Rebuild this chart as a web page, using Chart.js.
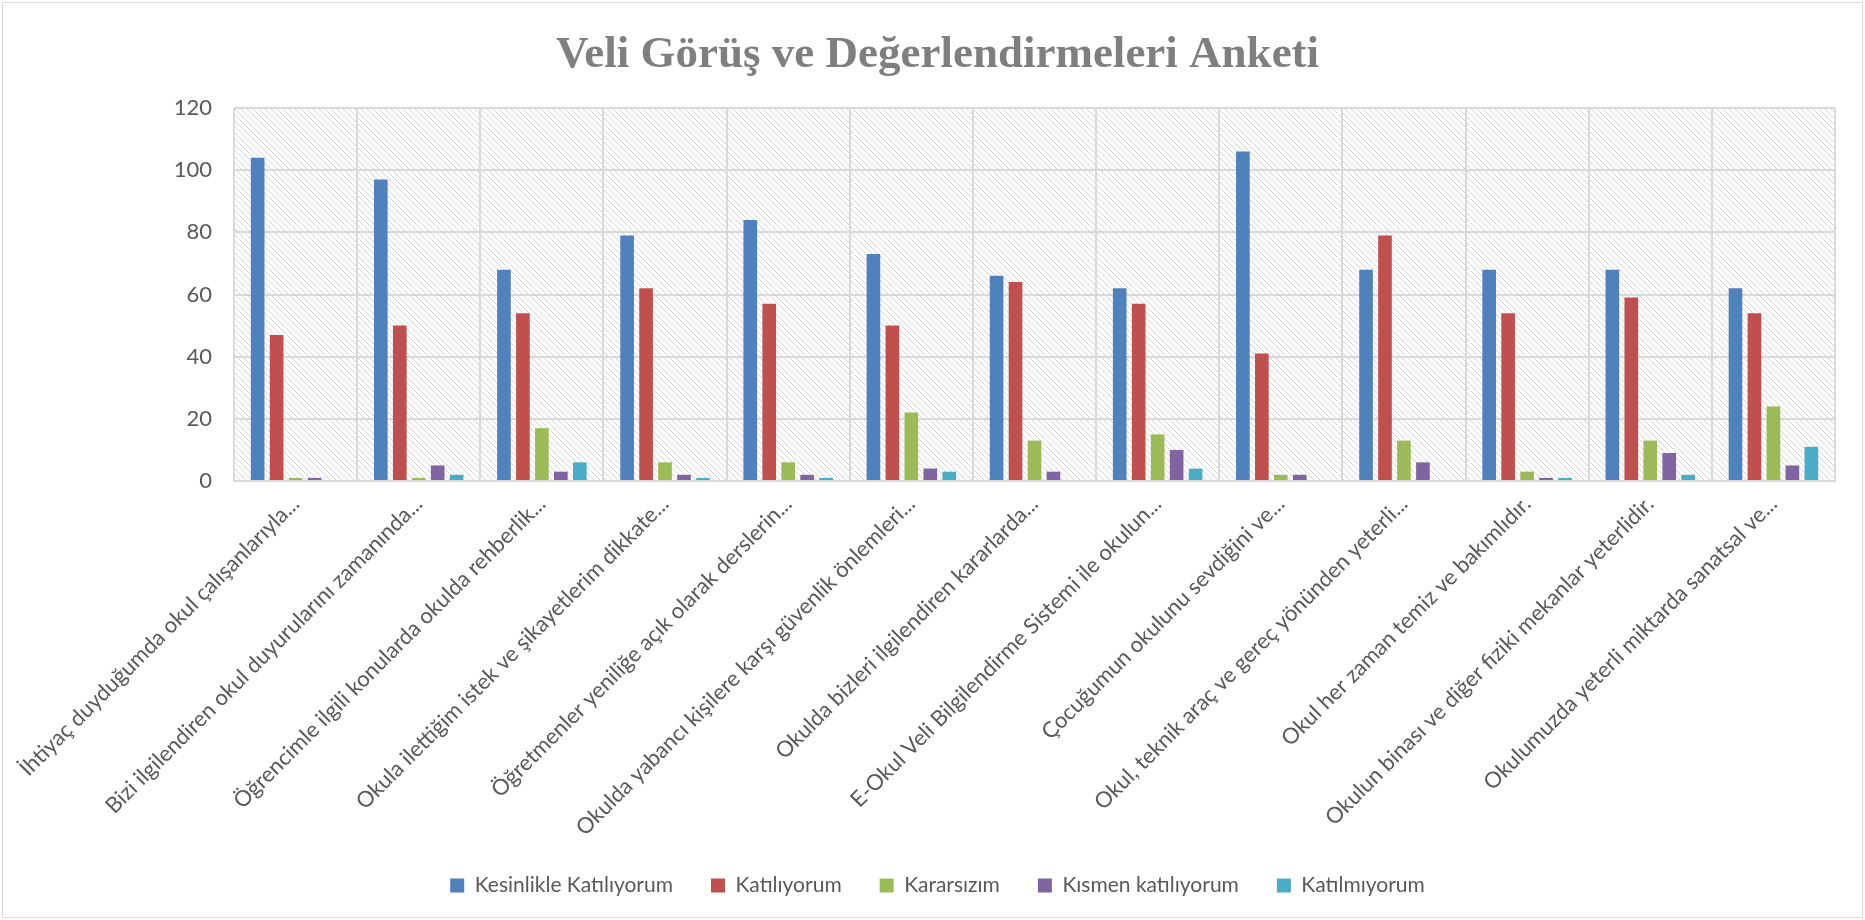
<!DOCTYPE html>
<html>
<head>
<meta charset="utf-8">
<script src="https://cdn.jsdelivr.net/npm/chart.js@4.4.1/dist/chart.umd.min.js"></script>
<style>
  html, body { margin: 0; padding: 0; background: #fff; }
  #wrap { width: 1865px; height: 920px; }
</style>
</head>
<body>
<div id="wrap"><canvas id="myChart" width="1865" height="920"></canvas></div>
<script>
var categories = [
    "İhtiyaç duyduğumda okul çalışanlarıyla...",
    "Bizi ilgilendiren okul duyurularını zamanında...",
    "Öğrencimle ilgili konularda okulda rehberlik...",
    "Okula ilettiğim istek ve şikayetlerim dikkate...",
    "Öğretmenler yeniliğe açık olarak derslerin...",
    "Okulda yabancı kişilere karşı güvenlik önlemleri...",
    "Okulda bizleri ilgilendiren kararlarda...",
    "E-Okul Veli Bilgilendirme Sistemi ile okulun...",
    "Çocuğumun okulunu sevdiğini ve...",
    "Okul, teknik araç ve gereç yönünden yeterli...",
    "Okul her zaman temiz ve bakımlıdır.",
    "Okulun binası ve diğer fiziki mekanlar yeterlidir.",
    "Okulumuzda yeterli miktarda sanatsal ve..."
];

var seriesNames = ["Kesinlikle Katılıyorum", "Katılıyorum", "Kararsızım", "Kısmen katılıyorum", "Katılmıyorum"];

var kesinlikleKatiliyorum = [104, 97, 68, 79, 84, 73, 66, 62, 106, 68, 68, 68, 62];
var katiliyorum           = [47, 50, 54, 62, 57, 50, 64, 57, 41, 79, 54, 59, 54];
var kararsizim            = [1, 1, 17, 6, 6, 22, 13, 15, 2, 13, 3, 13, 24];
var kismenKatiliyorum     = [1, 5, 3, 2, 2, 4, 3, 10, 2, 6, 1, 9, 5];
var katilmiyorum          = [0, 2, 6, 1, 1, 3, 0, 4, 0, 0, 1, 2, 11];

var yTicks = [0, 20, 40, 60, 80, 100, 120];

var colors = ["#4f81bd", "#c0504d", "#9bbb59", "#8064a2", "#4bacc6"];
var values = [kesinlikleKatiliyorum, katiliyorum, kararsizim, kismenKatiliyorum, katilmiyorum];

var datasets = [];
for (var i = 0; i < seriesNames.length; i++) {
    datasets.push({
        label: seriesNames[i],
        data: values[i],
        backgroundColor: colors[i],
        borderWidth: 0,
        barPercentage: 0.72,
        categoryPercentage: 0.77
    });
}

// diagonal hatch behind the plot area
function makeHatch() {
    var c = document.createElement("canvas");
    c.width = 6; c.height = 6;
    var g = c.getContext("2d");
    g.strokeStyle = "#d4d4d4";
    g.lineWidth = 1;
    g.beginPath();
    g.moveTo(0, 0); g.lineTo(6, 6);
    g.moveTo(-3, 3); g.lineTo(3, 9);
    g.moveTo(3, -3); g.lineTo(9, 3);
    g.stroke();
    return c;
}

var hatchPlugin = {
    id: "hatch",
    beforeDraw: function(chart) {
        var ctx = chart.ctx, a = chart.chartArea;
        ctx.save();
        ctx.fillStyle = "#fff";
        ctx.fillRect(0, 0, chart.width, chart.height);
        ctx.fillStyle = ctx.createPattern(makeHatch(), "repeat");
        ctx.fillRect(a.left, a.top, a.right - a.left, a.bottom - a.top);
        ctx.strokeStyle = "#d9d9d9";
        ctx.lineWidth = 1;
        ctx.strokeRect(2.5, 2.5, chart.width - 5, chart.height - 5);
        ctx.restore();
    }
};

var ctx = document.getElementById("myChart").getContext("2d");

var myChart = new Chart(ctx, {
    type: "bar",
    data: {
        labels: categories,
        datasets: datasets
    },
    options: {
        responsive: false,
        animation: false,
        layout: {
            padding: { left: 40, right: 30, top: 22, bottom: 14 }
        },
        plugins: {
            title: {
                display: true,
                text: "Veli Görüş ve Değerlendirmeleri Anketi",
                color: "#7f7f7f",
                font: { family: "Liberation Serif", size: 45, weight: "bold" },
                padding: { top: 6, bottom: 26 }
            },
            legend: {
                position: "bottom",
                labels: {
                    boxWidth: 14,
                    boxHeight: 14,
                    padding: 38,
                    color: "#595959",
                    font: { family: "Lato", size: 21 }
                }
            },
            tooltip: { enabled: false }
        },
        scales: {
            x: {
                grid: { color: "#d9d9d9", lineWidth: 2, drawTicks: false },
                border: { color: "#d9d9d9", width: 2 },
                ticks: {
                    color: "#595959",
                    font: { family: "Lato", size: 22 },
                    minRotation: 45,
                    maxRotation: 45,
                    autoSkip: false,
                    padding: 10
                },
                afterFit: function(axis) {
                    axis.height = 356;
                }
            },
            y: {
                min: 0,
                max: 120,
                afterBuildTicks: function(axis) {
                    axis.ticks = yTicks.map(function(v) { return { value: v }; });
                },
                afterFit: function(axis) {
                    axis.width = 194;
                },
                grid: { color: "#d9d9d9", lineWidth: 2, drawTicks: false },
                border: { display: false },
                ticks: {
                    color: "#595959",
                    font: { family: "Lato", size: 22 },
                    padding: 22
                }
            }
        }
    },
    plugins: [hatchPlugin]
});
</script>
</body>
</html>
